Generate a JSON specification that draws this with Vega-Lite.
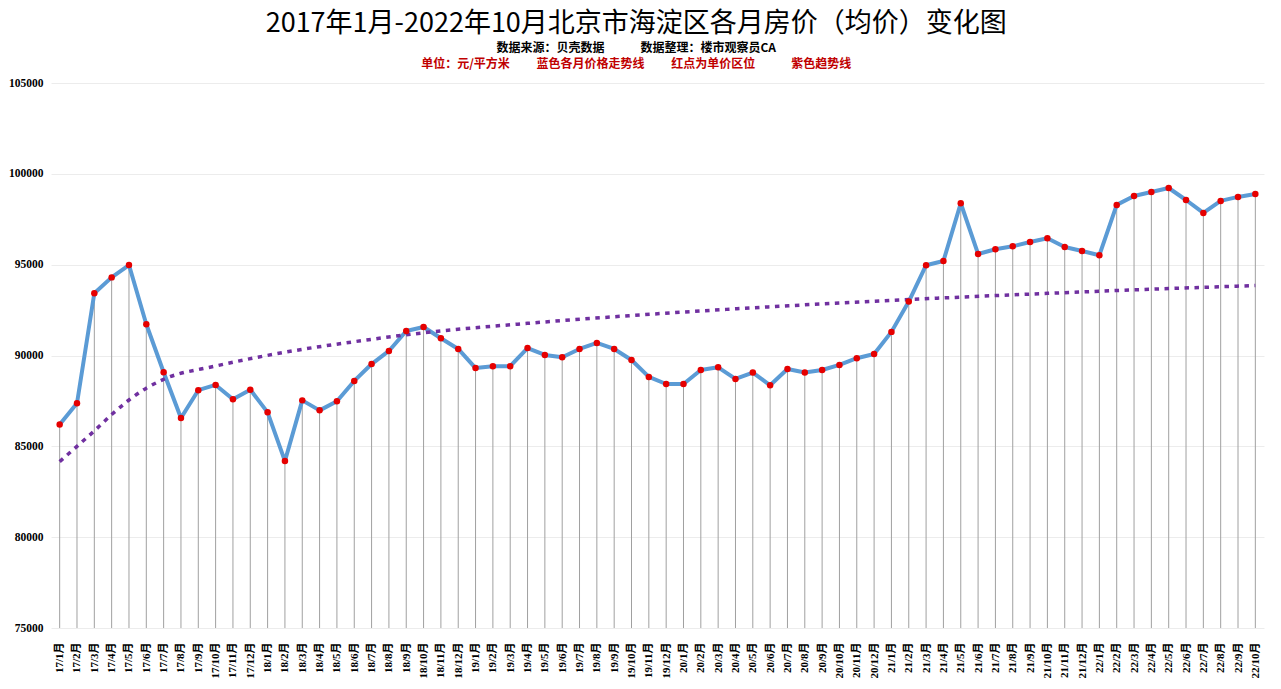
{
  "$schema": "https://vega.github.io/schema/vega-lite/v6.json",
  "background": "white",
  "padding": {"left": 8, "right": 17, "top": 10, "bottom": 0},
  "title": {
    "text": "2017年1月-2022年10月北京市海淀区各月房价（均价）变化图",
    "subtitle": "数据来源：贝壳数据　　　数据整理：楼市观察员CA",
    "anchor": "middle",
    "frame": "bounds",
    "font": "Noto Sans CJK SC",
    "fontSize": 27,
    "fontWeight": "normal",
    "color": "#000000",
    "subtitleFont": "Noto Sans CJK SC",
    "subtitleFontSize": 12,
    "subtitleFontWeight": "bold",
    "subtitleColor": "#000000",
    "subtitlePadding": 5,
    "offset": 3
  },
  "datasets": {
    "monthly": [
      {"i": 1, "month": "17/1月", "price": 86200},
      {"i": 2, "month": "17/2月", "price": 87370},
      {"i": 3, "month": "17/3月", "price": 93430},
      {"i": 4, "month": "17/4月", "price": 94300},
      {"i": 5, "month": "17/5月", "price": 94980},
      {"i": 6, "month": "17/6月", "price": 91720},
      {"i": 7, "month": "17/7月", "price": 89080},
      {"i": 8, "month": "17/8月", "price": 86560},
      {"i": 9, "month": "17/9月", "price": 88090},
      {"i": 10, "month": "17/10月", "price": 88380},
      {"i": 11, "month": "17/11月", "price": 87590},
      {"i": 12, "month": "17/12月", "price": 88120},
      {"i": 13, "month": "18/1月", "price": 86870},
      {"i": 14, "month": "18/2月", "price": 84190},
      {"i": 15, "month": "18/3月", "price": 87530},
      {"i": 16, "month": "18/4月", "price": 86980},
      {"i": 17, "month": "18/5月", "price": 87480},
      {"i": 18, "month": "18/6月", "price": 88600},
      {"i": 19, "month": "18/7月", "price": 89530},
      {"i": 20, "month": "18/8月", "price": 90250},
      {"i": 21, "month": "18/9月", "price": 91350},
      {"i": 22, "month": "18/10月", "price": 91570},
      {"i": 23, "month": "18/11月", "price": 90950},
      {"i": 24, "month": "18/12月", "price": 90360},
      {"i": 25, "month": "19/1月", "price": 89310},
      {"i": 26, "month": "19/2月", "price": 89410},
      {"i": 27, "month": "19/3月", "price": 89410},
      {"i": 28, "month": "19/4月", "price": 90410},
      {"i": 29, "month": "19/5月", "price": 90030},
      {"i": 30, "month": "19/6月", "price": 89900},
      {"i": 31, "month": "19/7月", "price": 90360},
      {"i": 32, "month": "19/8月", "price": 90690},
      {"i": 33, "month": "19/9月", "price": 90360},
      {"i": 34, "month": "19/10月", "price": 89750},
      {"i": 35, "month": "19/11月", "price": 88820},
      {"i": 36, "month": "19/12月", "price": 88430},
      {"i": 37, "month": "20/1月", "price": 88430},
      {"i": 38, "month": "20/2月", "price": 89200},
      {"i": 39, "month": "20/3月", "price": 89350},
      {"i": 40, "month": "20/4月", "price": 88710},
      {"i": 41, "month": "20/5月", "price": 89060},
      {"i": 42, "month": "20/6月", "price": 88360},
      {"i": 43, "month": "20/7月", "price": 89260},
      {"i": 44, "month": "20/8月", "price": 89060},
      {"i": 45, "month": "20/9月", "price": 89200},
      {"i": 46, "month": "20/10月", "price": 89480},
      {"i": 47, "month": "20/11月", "price": 89850},
      {"i": 48, "month": "20/12月", "price": 90080},
      {"i": 49, "month": "21/1月", "price": 91300},
      {"i": 50, "month": "21/2月", "price": 92970},
      {"i": 51, "month": "21/3月", "price": 94970},
      {"i": 52, "month": "21/4月", "price": 95200},
      {"i": 53, "month": "21/5月", "price": 98380},
      {"i": 54, "month": "21/6月", "price": 95590},
      {"i": 55, "month": "21/7月", "price": 95850},
      {"i": 56, "month": "21/8月", "price": 96010},
      {"i": 57, "month": "21/9月", "price": 96250},
      {"i": 58, "month": "21/10月", "price": 96450},
      {"i": 59, "month": "21/11月", "price": 95970},
      {"i": 60, "month": "21/12月", "price": 95750},
      {"i": 61, "month": "22/1月", "price": 95520},
      {"i": 62, "month": "22/2月", "price": 98290},
      {"i": 63, "month": "22/3月", "price": 98780},
      {"i": 64, "month": "22/4月", "price": 99000},
      {"i": 65, "month": "22/5月", "price": 99220},
      {"i": 66, "month": "22/6月", "price": 98560},
      {"i": 67, "month": "22/7月", "price": 97850},
      {"i": 68, "month": "22/8月", "price": 98510},
      {"i": 69, "month": "22/9月", "price": 98730},
      {"i": 70, "month": "22/10月", "price": 98890}
    ],
    "trend": [
      {"i": 1, "trend": 84160},
      {"i": 2, "trend": 85000},
      {"i": 3, "trend": 85850},
      {"i": 4, "trend": 86750},
      {"i": 5, "trend": 87550},
      {"i": 6, "trend": 88200},
      {"i": 7, "trend": 88690},
      {"i": 10, "trend": 89420},
      {"i": 14, "trend": 90180},
      {"i": 18, "trend": 90760},
      {"i": 22, "trend": 91250},
      {"i": 28, "trend": 91770},
      {"i": 34, "trend": 92200},
      {"i": 40, "trend": 92570},
      {"i": 46, "trend": 92890},
      {"i": 52, "trend": 93170},
      {"i": 58, "trend": 93420},
      {"i": 64, "trend": 93650},
      {"i": 70, "trend": 93850}
    ]
  },
  "data": {"name": "monthly"},
  "vconcat": [
    {
      "title": {
        "text": "单位：元/平方米　　 蓝色各月价格走势线　　 红点为单价区位　　　紫色趋势线",
        "anchor": "middle",
        "frame": "bounds",
        "font": "Noto Sans CJK SC",
        "fontSize": 12,
        "fontWeight": "bold",
        "color": "#c00000",
        "offset": 6
      },
      "width": 1213,
      "height": 545,
      "encoding": {
        "x": {
          "field": "i",
          "type": "quantitative",
          "scale": {"domain": [0.5, 70.5], "nice": false, "zero": false},
          "axis": {
            "title": null,
            "values": [1,2,3,4,5,6,7,8,9,10,11,12,13,14,15,16,17,18,19,20,21,22,23,24,25,26,27,28,29,30,31,32,33,34,35,36,37,38,39,40,41,42,43,44,45,46,47,48,49,50,51,52,53,54,55,56,57,58,59,60,61,62,63,64,65,66,67,68,69,70],
            "labelExpr": "['17/1月','17/2月','17/3月','17/4月','17/5月','17/6月','17/7月','17/8月','17/9月','17/10月','17/11月','17/12月','18/1月','18/2月','18/3月','18/4月','18/5月','18/6月','18/7月','18/8月','18/9月','18/10月','18/11月','18/12月','19/1月','19/2月','19/3月','19/4月','19/5月','19/6月','19/7月','19/8月','19/9月','19/10月','19/11月','19/12月','20/1月','20/2月','20/3月','20/4月','20/5月','20/6月','20/7月','20/8月','20/9月','20/10月','20/11月','20/12月','21/1月','21/2月','21/3月','21/4月','21/5月','21/6月','21/7月','21/8月','21/9月','21/10月','21/11月','21/12月','22/1月','22/2月','22/3月','22/4月','22/5月','22/6月','22/7月','22/8月','22/9月','22/10月'][datum.value - 1]",
            "labelAngle": 270,
            "labelFont": "Liberation Serif, Noto Sans CJK SC",
            "labelFontSize": 11,
            "labelFontWeight": "bold",
            "labelColor": "#000000",
            "labelPadding": 14,
            "labelOverlap": false,
            "labelBound": false,
            "labelFlush": false,
            "grid": false,
            "ticks": false,
            "domain": false
          }
        },
        "y": {
          "field": "price",
          "type": "quantitative",
          "scale": {"domain": [75000, 105000], "nice": false, "zero": false},
          "axis": {
            "title": null,
            "values": [75000, 80000, 85000, 90000, 95000, 100000, 105000],
            "format": "d",
            "labelFont": "Liberation Serif",
            "labelFontSize": 11.5,
            "labelFontWeight": "bold",
            "labelColor": "#000000",
            "labelPadding": 8,
            "grid": true,
            "gridColor": "#ececec",
            "gridWidth": 1,
            "ticks": false,
            "domain": false
          }
        }
      },
      "layer": [
        {
          "mark": {"type": "rule", "color": "#a0a0a0", "strokeWidth": 1},
          "encoding": {"y2": {"datum": 75000}}
        },
        {
          "mark": {"type": "line", "color": "#5b9bd5", "strokeWidth": 4, "strokeJoin": "round", "strokeCap": "round"}
        },
        {
          "data": {"name": "trend"},
          "mark": {"type": "line", "color": "#7030a0", "strokeWidth": 3.5, "strokeDash": [4.5, 5.5], "strokeCap": "butt", "interpolate": "monotone"},
          "encoding": {
            "y": {"field": "trend", "type": "quantitative"}
          }
        },
        {
          "mark": {"type": "circle", "color": "#e60000", "opacity": 1, "size": 42}
        }
      ]
    }
  ],
  "config": {
    "view": {"stroke": null},
    "font": "Noto Sans CJK SC"
  }
}
